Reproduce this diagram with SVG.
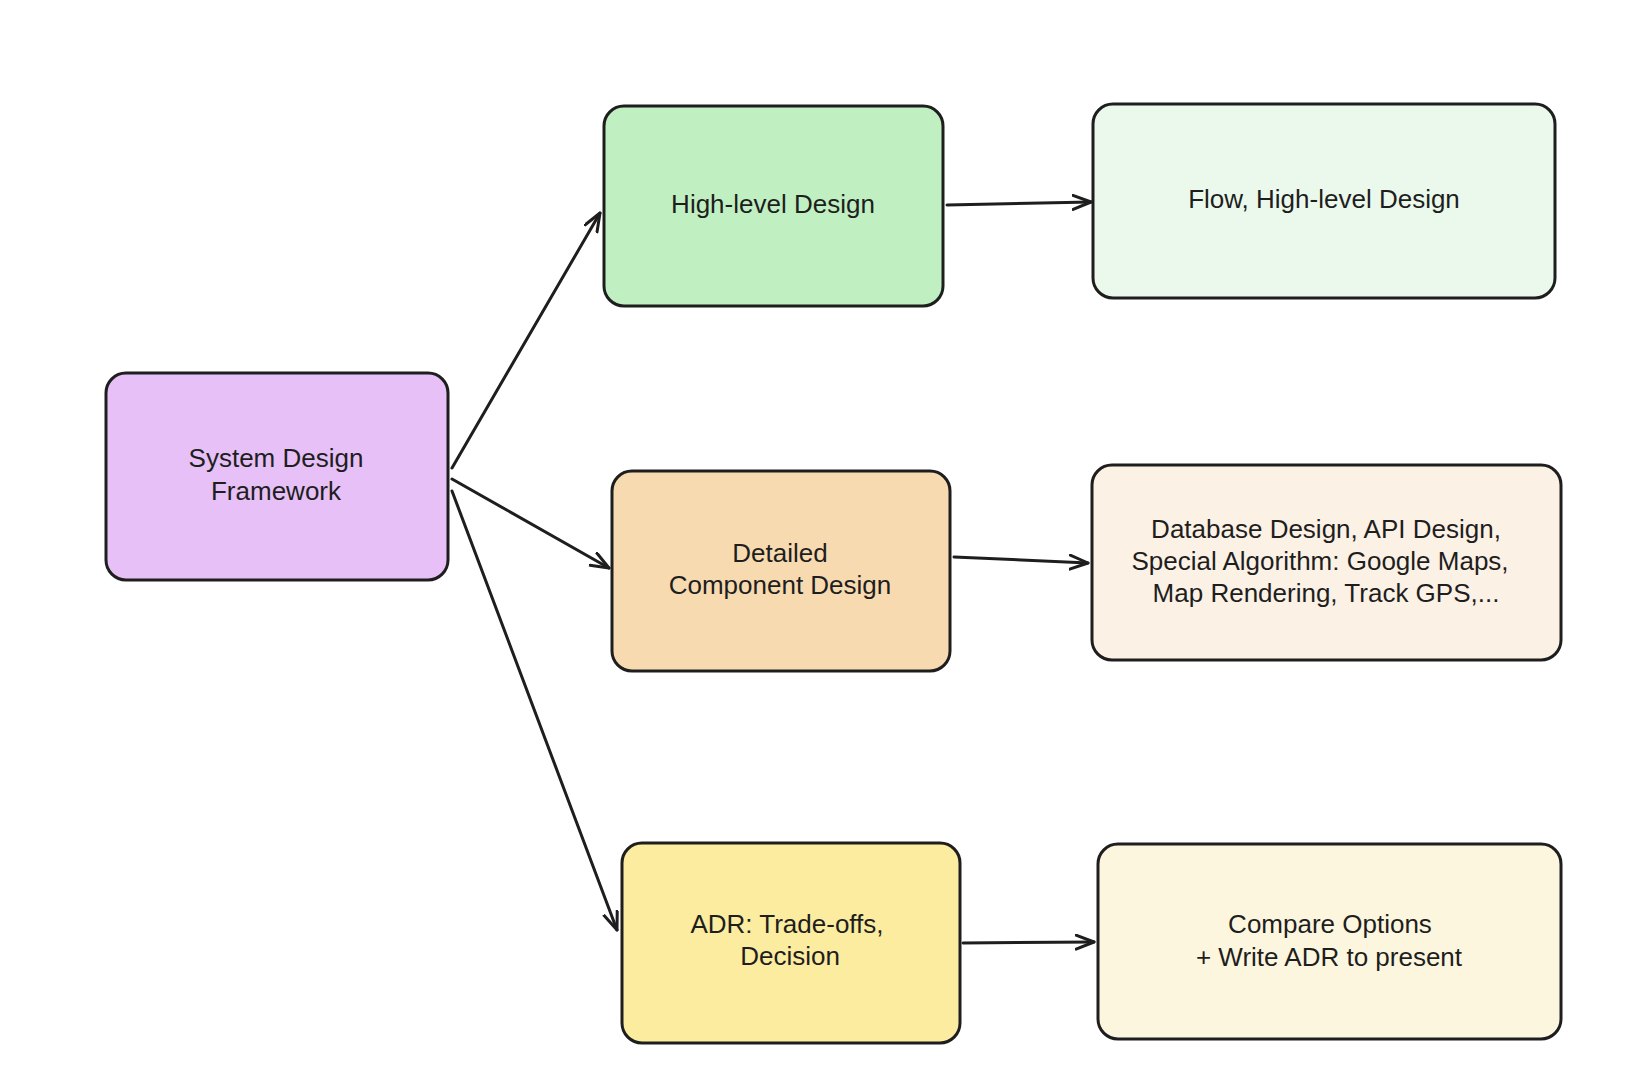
<svg xmlns="http://www.w3.org/2000/svg" width="1640" height="1082" viewBox="0 0 1640 1082">
<style>
.box{stroke:#1e1e1e;stroke-width:3;}
.lbl{font-family:"Liberation Sans","DejaVu Sans",sans-serif;font-size:26px;fill:#1e1e1e;text-anchor:middle;}
.conn{stroke:#1e1e1e;stroke-width:3;fill:none;stroke-linecap:round;}
</style>
<defs>
<marker id="arr" markerUnits="userSpaceOnUse" markerWidth="24" markerHeight="20" refX="19" refY="8" orient="auto">
<path d="M1,1 L19,8 L1,15" fill="none" stroke="#1e1e1e" stroke-width="3" stroke-linecap="round" stroke-linejoin="round"/>
</marker>
</defs>
<rect width="1640" height="1082" fill="#ffffff"/>
<g id="connectors">
<line class="conn" x1="452" y1="468" x2="600" y2="213" marker-end="url(#arr)"/>
<line class="conn" x1="452" y1="479" x2="609" y2="568" marker-end="url(#arr)"/>
<line class="conn" x1="452" y1="491" x2="617" y2="930" marker-end="url(#arr)"/>
<line class="conn" x1="947" y1="205" x2="1091" y2="202" marker-end="url(#arr)"/>
<line class="conn" x1="954" y1="557" x2="1088" y2="563" marker-end="url(#arr)"/>
<line class="conn" x1="963" y1="943" x2="1094" y2="942" marker-end="url(#arr)"/>
</g>
<g id="node-system-design">
<rect class="box" x="106" y="373" width="342" height="207" rx="20" fill="#e6c0f6"/>
<text class="lbl" x="276" y="467">System Design</text>
<text class="lbl" x="276" y="500">Framework</text>
</g>
<g id="node-high-level">
<rect class="box" x="604" y="106" width="339" height="200" rx="20" fill="#c0f0c2"/>
<text class="lbl" x="773" y="213">High-level Design</text>
</g>
<g id="node-flow">
<rect class="box" x="1093" y="104" width="462" height="194" rx="20" fill="#ebf9ec"/>
<text class="lbl" x="1324" y="208">Flow, High-level Design</text>
</g>
<g id="node-detailed">
<rect class="box" x="612" y="471" width="338" height="200" rx="20" fill="#f8dab0"/>
<text class="lbl" x="780" y="562">Detailed</text>
<text class="lbl" x="780" y="594">Component Design</text>
</g>
<g id="node-database">
<rect class="box" x="1092" y="465" width="469" height="195" rx="20" fill="#fcf1e5"/>
<text class="lbl" x="1326" y="538">Database Design, API Design,</text>
<text class="lbl" x="1320" y="570">Special Algorithm: Google Maps,</text>
<text class="lbl" x="1326" y="602">Map Rendering, Track GPS,...</text>
</g>
<g id="node-adr">
<rect class="box" x="622" y="843" width="338" height="200" rx="20" fill="#fcec9f"/>
<text class="lbl" x="787" y="933">ADR: Trade-offs,</text>
<text class="lbl" x="790" y="965">Decision</text>
</g>
<g id="node-compare">
<rect class="box" x="1098" y="844" width="463" height="195" rx="20" fill="#fdf6de"/>
<text class="lbl" x="1330" y="933">Compare Options</text>
<text class="lbl" x="1329" y="966">+ Write ADR to present</text>
</g>
</svg>
